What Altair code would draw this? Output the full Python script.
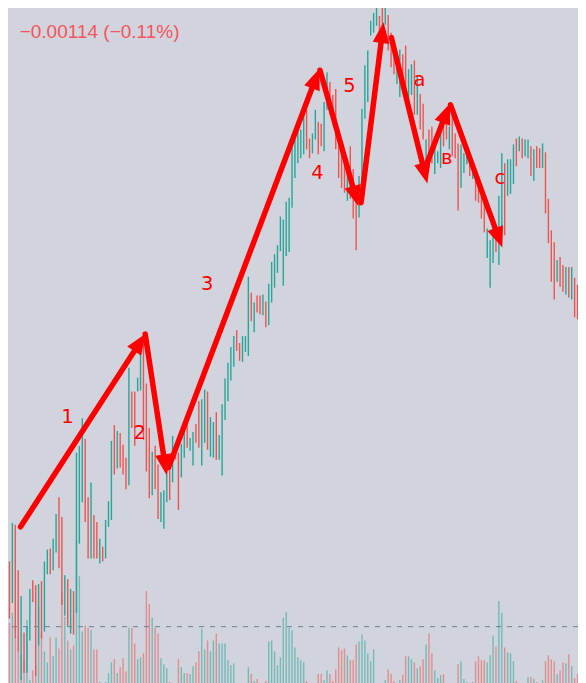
import math
import altair as alt
import pandas as pd

# ---------------- data ----------------
# price levels are measured downward (0 = top of the chart, 683 = bottom)
direction = list(
    "rtrrtrttrr" "trttrttrrt" "rtrtttrrtr" "rtrtttrtrr" "rtrrttrrrt"
    "rrtttrtrrt" "trttrrttrt" "trttttttrr" "tttrtrrtrt" "tttttttttt"
    "ttrrttrrtt" "rrrrrrtrrr" "tttttttrrt" "rrrttrrttr" "trrtrrtttr"
    "rtrrrtttrt" "rrrrtttrtt" "rtttrtrttr" "trrtrrrrtr" "rtrtrr"
)
bar_high = [
    560, 521, 523, 569, 595, 632, 626, 588, 579, 584,
    583, 580, 560, 548, 547, 537, 512, 495, 515, 574,
    578, 588, 590, 450, 443, 415, 436, 495, 480, 513,
    520, 537, 545, 518, 499, 438, 422, 428, 430, 442,
    455, 364, 388, 388, 374, 340, 330, 380, 425, 449,
    443, 462, 490, 488, 463, 468, 433, 443, 450, 441,
    422, 421, 435, 429, 421, 398, 396, 386, 388, 414,
    419, 409, 432, 401, 375, 359, 343, 332, 326, 339,
    332, 332, 272, 288, 298, 291, 291, 290, 297, 279,
    257, 249, 240, 211, 214, 196, 192, 140, 133, 123,
    123, 108, 103, 132, 127, 103, 115, 117, 95, 65,
    75, 88, 82, 125, 140, 152, 168, 140, 163, 182,
    170, 102, 58, 43, 13, 5, 0, 8, 0, 0,
    7, 25, 37, 50, 42, 47, 38, 62, 57, 53,
    68, 87, 97, 133, 123, 120, 133, 145, 123, 113,
    107, 120, 100, 127, 137, 138, 147, 145, 147, 160,
    165, 170, 190, 197, 223, 235, 223, 230, 190, 147,
    157, 153, 153, 138, 132, 130, 132, 133, 133, 140,
    143, 140, 142, 137, 146, 193, 225, 237, 255, 252,
    260, 262, 262, 262, 273, 280,
]
bar_low = [
    618, 602, 638, 651, 680, 673, 673, 640, 601, 676,
    645, 638, 631, 573, 573, 569, 551, 567, 604, 615,
    625, 633, 634, 612, 542, 500, 520, 557, 557, 557,
    557, 562, 560, 557, 525, 518, 472, 466, 465, 472,
    487, 483, 425, 443, 388, 387, 437, 469, 496, 493,
    487, 517, 520, 527, 500, 498, 480, 457, 508, 475,
    455, 445, 448, 463, 440, 445, 463, 440, 447, 454,
    455, 457, 457, 473, 417, 398, 377, 363, 347, 357,
    358, 348, 352, 317, 328, 308, 310, 311, 323, 321,
    298, 283, 268, 246, 281, 251, 247, 202, 172, 157,
    152, 148, 143, 152, 147, 133, 148, 140, 145, 103,
    108, 118, 143, 172, 182, 187, 195, 193, 213, 245,
    212, 188, 112, 95, 28, 25, 18, 30, 37, 17,
    43, 60, 67, 77, 90, 77, 93, 93, 88, 108,
    108, 123, 133, 160, 162, 157, 168, 157, 162, 140,
    133, 143, 150, 152, 205, 182, 167, 158, 170, 173,
    195, 197, 213, 227, 253, 283, 258, 247, 260, 230,
    230, 190, 188, 178, 160, 145, 152, 150, 152, 170,
    175, 162, 162, 162, 208, 238, 277, 295, 277, 282,
    287, 290, 293, 295, 313, 315,
]
volume = [
    61, 71, 45, 33, 28, 23, 64, 3, 13, 18,
    77, 51, 32, 21, 46, 27, 46, 35, 92, 67,
    43, 34, 38, 145, 108, 52, 58, 56, 54, 34,
    34, 1, 0, 1, 10, 21, 24, 10, 16, 25,
    12, 56, 56, 40, 24, 26, 30, 93, 80, 66,
    56, 50, 25, 19, 15, 1, 0, 0, 24, 16,
    10, 10, 9, 17, 21, 32, 55, 34, 43, 32,
    43, 50, 40, 40, 40, 23, 18, 20, 0, 0,
    0, 0, 16, 9, 2, 4, 0, 0, 2, 42,
    43, 32, 18, 26, 66, 72, 56, 53, 36, 26,
    23, 21, 2, 0, 0, 0, 9, 9, 3, 13,
    9, 2, 14, 36, 33, 35, 28, 23, 23, 39,
    42, 49, 43, 30, 22, 34, 0, 0, 0, 3,
    14, 9, 2, 0, 3, 8, 27, 27, 24, 21,
    15, 17, 24, 39, 50, 30, 13, 5, 8, 9,
    0, 0, 0, 0, 19, 22, 4, 1, 0, 1,
    22, 27, 23, 23, 21, 28, 48, 37, 83, 71,
    36, 31, 30, 22, 2, 0, 0, 0, 6, 6,
    4, 1, 0, 3, 22, 28, 24, 22, 9, 13,
    21, 20, 29, 17, 5, 9,
]

# wave arrows (bar index, level)
arrow_start_idx = [3.8, 46.6, 54.6, 106.6, 120.7, 131.1, 142.7, 151.4]
arrow_start_lvl = [525, 330, 465, 63, 197, 30, 162, 98]
arrow_end_idx = [46.6, 53.9, 106.3, 119.7, 128.4, 143.4, 151.1, 169.1]
arrow_end_lvl = [330, 472, 62, 200, 15, 177, 97, 242]

# wave labels
label_text = ["1", "2", "3", "4", "5", "a", "в", "c"]
label_idx = [19.9, 44.7, 67.9, 105.7, 116.7, 140.7, 150.1, 168.3]
label_lvl = [420, 436, 285, 173, 85, 79, 158, 178]

dashed_level = [626]
header_text = ["\u22120.00114 (\u22120.11%)"]

# ---------------- layout ----------------
W, H = 570, 675
KX, KY = W / 586, H / 683
STEP = 2.995  # reference pixels per bar
HEAD = 10     # half arrow-head length, reference px

n = len(bar_high)
bars = pd.DataFrame({
    "i": list(range(n)),
    "high": bar_high,
    "low": bar_low,
    "dir": direction[:n],
    "vol": volume[:n],
})

shafts = []
heads = []
for si, sl, ei, el in zip(arrow_start_idx, arrow_start_lvl, arrow_end_idx, arrow_end_lvl):
    dx = (ei - si) * STEP
    dy = el - sl
    L = math.hypot(dx, dy)
    ux, uy = dx / L, dy / L
    hi = ei - HEAD * ux / STEP
    hl = el - HEAD * uy
    ang = math.degrees(math.atan2(ux, -uy)) % 360
    shafts.append({"x": si, "y": sl, "x2": hi, "y2": hl})
    heads.append({"x": hi, "y": hl, "angle": ang})
shafts = pd.DataFrame(shafts)
heads = pd.DataFrame(heads)

labels = pd.DataFrame({"t": label_text, "i": label_idx, "lvl": label_lvl})

xs = alt.Scale(domain=[-1.5 / STEP, (586 - 1.5) / STEP], nice=False, zero=False)
ys = alt.Scale(domain=[0, 683], reverse=True, nice=False, zero=False)
vs = alt.Scale(domain=[0, 683], nice=False, zero=False)
cs = alt.Scale(domain=["t", "r"], range=["#26a69a", "#ef5350"])

vol_layer = alt.Chart(bars).mark_rule(strokeWidth=1.4, opacity=0.55).encode(
    x=alt.X("i:Q", scale=xs, axis=None),
    y=alt.Y("vol:Q", scale=vs, axis=None),
    y2=alt.datum(0),
    color=alt.Color("dir:N", scale=cs, legend=None),
)

dash_layer = alt.Chart(pd.DataFrame({"lvl": dashed_level})).mark_rule(
    strokeDash=[5, 6], color="#6b7f93", strokeWidth=1
).encode(y=alt.Y("lvl:Q", scale=ys, axis=None))

price_layer = alt.Chart(bars).mark_rule(strokeWidth=1.4).encode(
    x=alt.X("i:Q", scale=xs, axis=None),
    y=alt.Y("high:Q", scale=ys, axis=None),
    y2="low:Q",
    color=alt.Color("dir:N", scale=cs, legend=None),
)

shaft_layer = alt.Chart(shafts).mark_rule(
    color="#ff0000", strokeWidth=5.5, strokeCap="round"
).encode(
    x=alt.X("x:Q", scale=xs, axis=None),
    y=alt.Y("y:Q", scale=ys, axis=None),
    x2="x2:Q",
    y2="y2:Q",
)

head_layer = alt.Chart(heads).mark_point(
    shape="M0,-1L0.8,1L-0.8,1Z", filled=True, size=430, color="#ff0000", opacity=1
).encode(
    x=alt.X("x:Q", scale=xs, axis=None),
    y=alt.Y("y:Q", scale=ys, axis=None),
    angle=alt.Angle("angle:Q", scale=None),
)

label_layer = alt.Chart(labels).mark_text(
    font="DejaVu Sans", fontSize=19.5, color="#ff0000", align="center", baseline="alphabetic"
).encode(
    x=alt.X("i:Q", scale=xs, axis=None),
    y=alt.Y("lvl:Q", scale=ys, axis=None),
    text="t:N",
)

header_layer = alt.Chart(pd.DataFrame({"t": header_text})).mark_text(
    font="Liberation Sans", fontSize=19, color="#f7525f", align="left", baseline="alphabetic"
).encode(
    x=alt.value(12 * KX),
    y=alt.value(30 * KY),
    text="t:N",
)

chart = alt.layer(
    vol_layer, dash_layer, price_layer, shaft_layer, head_layer, label_layer, header_layer
).resolve_scale(y="independent").properties(
    width=W, height=H, background="#d1d4dc", padding=0,
    autosize=alt.AutoSizeParams(type="none"),
).configure_view(stroke=None)

chart.save("out.html", embed_options={"renderer": "svg", "actions": False})
